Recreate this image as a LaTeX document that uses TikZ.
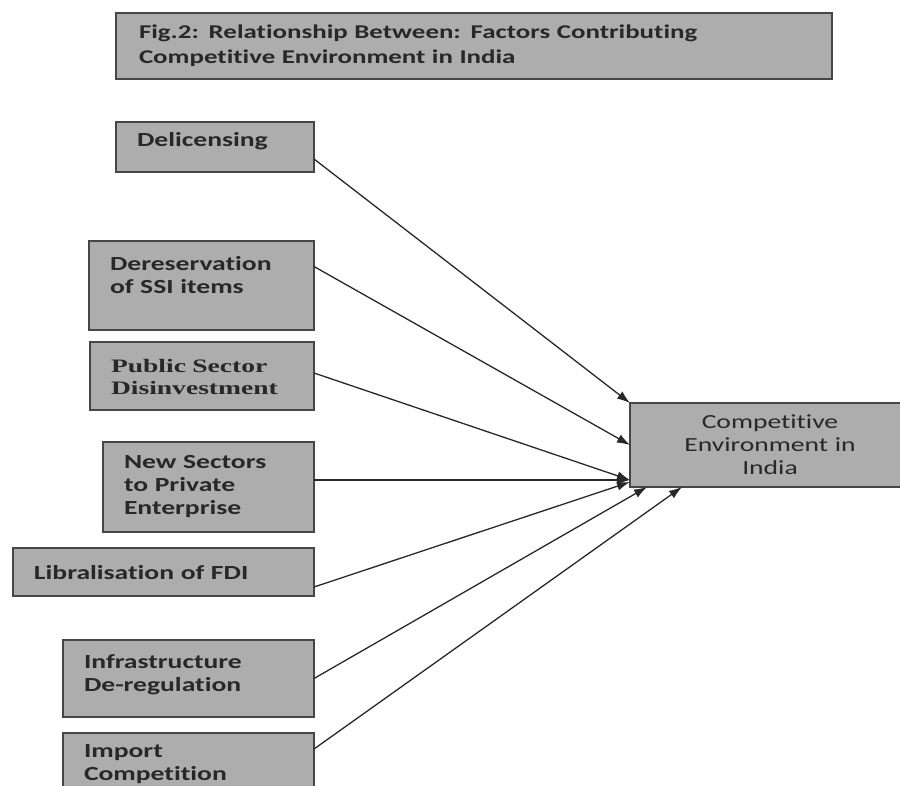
\documentclass[tikz,border=0pt]{standalone}
\usepackage{fontspec}
\setmainfont{Carlito}[FakeStretch=1.38, Ligatures=NoCommon]
\newfontfamily\bookserif{Liberation Serif}[FakeStretch=1.45]
\usetikzlibrary{arrows.meta, positioning}
\definecolor{boxfill}{RGB}{174,173,173}
\definecolor{boxline}{RGB}{70,70,70}
\definecolor{inkgray}{RGB}{40,40,40}
\tikzset{
    base/.style = {
        draw=boxline, line width=1.6pt, fill=boxfill, text=inkgray,
        anchor=north west, inner xsep=21pt, inner ysep=2pt, outer sep=0pt,
        font=\fontsize{20}{23}\selectfont
    },
    % moves the text up or down inside its box
    lift/.style = {execute at end node={\par\vspace*{#1}}},
    % Boxes
    factor/.style  = {base, align=left, lift=0pt, font=\fontsize{20}{23}\selectfont\bfseries},
    result/.style  = {base, align=center, inner xsep=15pt},
    heading/.style = {base, line width=2.2pt, align=left, inner xsep=23pt,
                      font=\fontsize{19.5}{25}\selectfont\bfseries},
    % Edges
    arrow/.style = {draw=inkgray, line width=1.3pt, -{Latex[length=13pt, width=9pt]}}
}

\begin{document}
\begin{tikzpicture}[x=1pt, y=-1pt]
    \useasboundingbox (0,0) rectangle (900,785);

    % Title
    \node (title) [heading, text width=670pt, minimum height=66pt] at (116,13)
        {Fig.2: Relationship Between: Factors Contributing\\Competitive Environment in India};

    % Factors (left column, right edges aligned)
    \node (deli) [factor, lift=12pt, text width=156pt, minimum height=50pt] at (116,122) {Delicensing};
    \node (dereserv) [factor, lift=21pt, text width=183pt, minimum height=89pt,
        below=69pt of deli.south east, anchor=north east] {Dereservation\\of SSI items};
    \node (public) [factor, lift=-1pt, text width=182pt, minimum height=68pt,
        below=12pt of dereserv.south east, anchor=north east, font=\fontsize{19}{22}\selectfont\bookserif\bfseries]
        {Public Sector\\Disinvestment};
    \node (newsec) [factor, text width=169pt, minimum height=90pt,
        below=32pt of public.south east, anchor=north east] {New Sectors\\to Private\\Enterprise};
    \node (fdi) [factor, lift=-1pt, text width=259pt, minimum height=48pt,
        below=16pt of newsec.south east, anchor=north east] {Libralisation of FDI};
    \node (infra) [factor, lift=8pt, text width=209pt, minimum height=77pt,
        below=44pt of fdi.south east, anchor=north east] {Infrastructure\\De-regulation};
    \node (import) [factor, lift=0pt, text width=209pt, minimum height=62pt,
        below=16pt of infra.south east, anchor=north east] {Import\\Competition};

    % Result
    \node (compet) [result, text width=250pt, minimum height=84pt] at (630,403)
        {Competitive\\Environment in\\India};

    % --- Connections ---
    \draw [arrow] ([yshift=-12pt]deli.east) -- (compet.north west);
    \draw [arrow] ([yshift=19pt]dereserv.east) -- (compet.west);
    \draw [arrow] ([yshift=3pt]public.east) -- ([yshift=7pt]compet.south west);
    \draw [arrow] ([yshift=7pt]newsec.east) -- ([yshift=7pt]compet.south west);
    \draw [arrow] ([yshift=-15pt]fdi.east) -- ([yshift=5pt]compet.south west);
    \draw [arrow] (infra.east) -- ([xshift=17pt]compet.south west);
    \draw [arrow] ([yshift=15pt]import.east) -- ([xshift=52pt]compet.south west);

\end{tikzpicture}
\end{document}
